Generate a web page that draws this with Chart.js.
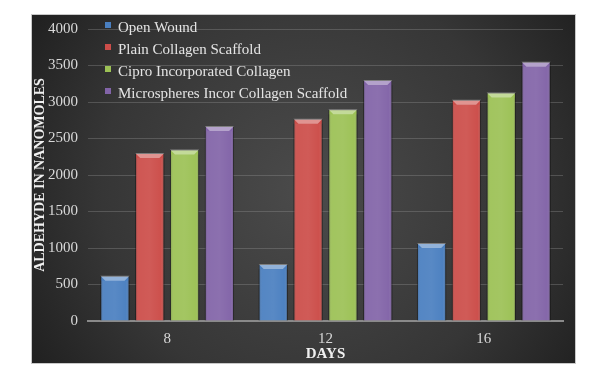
<!DOCTYPE html>
<html>
<head>
<meta charset="utf-8">
<script src="https://cdn.jsdelivr.net/npm/chart.js@4/dist/chart.umd.min.js"></script>
<style>
  html, body { margin: 0; padding: 0; background: #fff; }
  #wrap { width: 606px; height: 382px; }
</style>
</head>
<body>
<div id="wrap"><canvas id="chart" width="606" height="382"></canvas></div>
<script>
/* ---------- Data ---------- */
const days = ['8', '12', '16'];
const openWound = [620, 780, 1070];
const plainCollagen = [2300, 2770, 3030];
const ciproCollagen = [2350, 2900, 3130];
const microCollagen = [2670, 3300, 3550];
const seriesNames = ['Open Wound', 'Plain Collagen Scaffold', 'Cipro Incorporated Collagen', 'Microspheres Incor Collagen Scaffold'];
const seriesColors = ['#4a7fc0', '#cc4d49', '#9cc155', '#8264a8'];

const SERIF = '"Liberation Serif", "DejaVu Serif", serif';

/* ---------- Dark panel behind the chart ---------- */
const panelBg = {
  id: 'panelBg',
  beforeDraw(chart) {
    const ctx = chart.ctx;
    ctx.save();
    ctx.fillStyle = '#fff';
    ctx.fillRect(0, 0, chart.width, chart.height);
    const x0 = 32, y0 = 15, x1 = 575, y1 = 363;
    const g = ctx.createRadialGradient(310, 190, 10, 310, 190, 340);
    g.addColorStop(0, '#4a4a4a');
    g.addColorStop(0.6, '#363636');
    g.addColorStop(1, '#1e1e1e');
    ctx.fillStyle = g;
    ctx.fillRect(x0, y0, x1 - x0, y1 - y0);
    ctx.strokeStyle = '#c8c8c8';
    ctx.lineWidth = 1;
    ctx.strokeRect(x0 - 0.5, y0 - 0.5, x1 - x0 + 1, y1 - y0 + 1);
    ctx.restore();
  }
};

/* ---------- Bevel look on bars ---------- */
const bevel = {
  id: 'bevel',
  afterDatasetsDraw(chart) {
    const ctx = chart.ctx;
    ctx.save();
    chart.data.datasets.forEach((ds, i) => {
      chart.getDatasetMeta(i).data.forEach(bar => {
        const l = bar.x - bar.width / 2, r = bar.x + bar.width / 2;
        const t = bar.y, b = bar.base, bv = 5;
        // top bevel
        ctx.fillStyle = 'rgba(255,255,255,0.4)';
        ctx.beginPath();
        ctx.moveTo(l, t); ctx.lineTo(r, t); ctx.lineTo(r - bv, t + bv); ctx.lineTo(l + bv, t + bv);
        ctx.closePath(); ctx.fill();
        // side shading
        const g = ctx.createLinearGradient(l, 0, r, 0);
        g.addColorStop(0, 'rgba(0,0,0,0.25)');
        g.addColorStop(0.12, 'rgba(255,255,255,0.06)');
        g.addColorStop(0.5, 'rgba(255,255,255,0.08)');
        g.addColorStop(0.88, 'rgba(255,255,255,0.02)');
        g.addColorStop(1, 'rgba(0,0,0,0.3)');
        ctx.fillStyle = g;
        ctx.fillRect(l, t + bv, r - l, b - t - bv);
      });
    });
    ctx.restore();
  }
};

/* ---------- Legend inside the plot ---------- */
const innerLegend = {
  id: 'innerLegend',
  afterDraw(chart) {
    const ctx = chart.ctx;
    ctx.save();
    ctx.font = '15px ' + SERIF;
    ctx.textBaseline = 'middle';
    chart.data.datasets.forEach((ds, i) => {
      const y = 28 + i * 22;
      ctx.fillStyle = ds.backgroundColor;
      ctx.fillRect(105, y - 6, 6, 6);
      ctx.fillStyle = '#e4e4e4';
      ctx.fillText(ds.label, 118, y);
    });
    ctx.restore();
  }
};

const seriesData = [openWound, plainCollagen, ciproCollagen, microCollagen];

new Chart(document.getElementById('chart'), {
  type: 'bar',
  data: {
    labels: days,
    datasets: seriesData.map((d, i) => ({
      label: seriesNames[i],
      data: d,
      backgroundColor: seriesColors[i],
      borderColor: 'rgba(0,0,0,0.35)',
      borderWidth: 1,
      categoryPercentage: 0.88,
      barPercentage: 0.84
    }))
  },
  options: {
    responsive: false,
    animation: false,
    layout: { padding: { left: 32, top: 29, right: 43, bottom: 19 } },
    plugins: { legend: { display: false }, tooltip: { enabled: false } },
    scales: {
      x: {
        grid: { display: false },
        border: { color: '#8a8a8a', width: 2 },
        ticks: { color: '#d8d8d8', font: { family: SERIF, size: 15 }, padding: 1 },
        title: { display: true, text: 'DAYS', color: '#f0f0f0', font: { family: SERIF, size: 15, weight: 'bold' }, padding: { top: 0, bottom: 0 } },
        afterFit: s => { s.height = 42; }
      },
      y: {
        min: 0, max: 4000,
        ticks: { stepSize: 500, color: '#d8d8d8', font: { family: SERIF, size: 15 }, padding: 10, callback: v => String(v) },
        grid: { color: 'rgba(150,150,150,0.35)', drawTicks: false },
        border: { display: false },
        title: { display: true, text: 'ALDEHYDE IN NANOMOLES', color: '#f0f0f0', font: { family: SERIF, size: 14, weight: 'bold' }, padding: 0 },
        afterFit: s => { s.width = 56; }
      }
    }
  },
  plugins: [panelBg, bevel, innerLegend]
});
</script>
</body>
</html>
